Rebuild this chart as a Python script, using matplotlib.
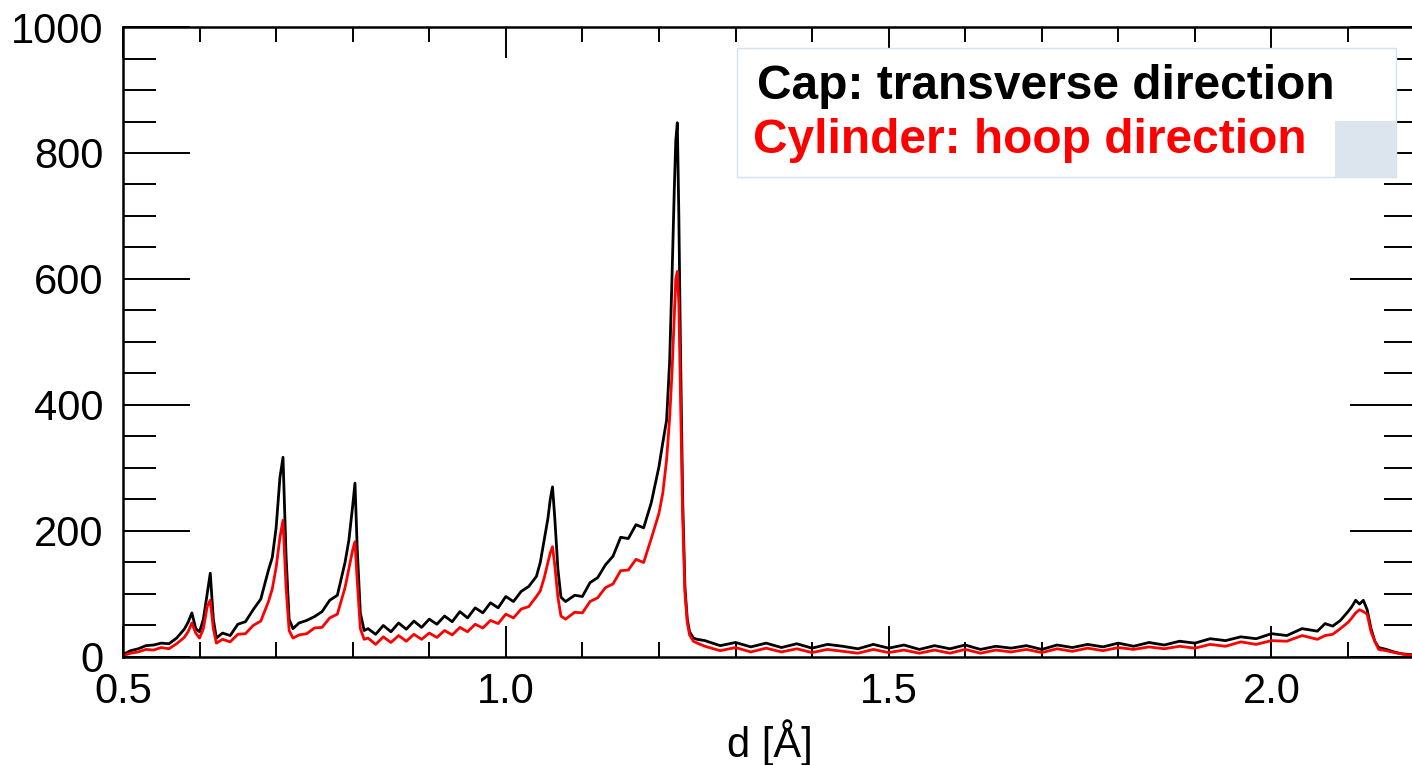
import matplotlib
matplotlib.use("Agg")
import matplotlib.pyplot as plt
from matplotlib.patches import Rectangle
from matplotlib.ticker import MultipleLocator

plt.rcParams['font.family'] = ['Liberation Sans', 'DejaVu Sans']

# d-spacing [Angstrom] and intensities
d = [0.50, 0.51, 0.52, 0.53, 0.54, 0.55, 0.56, 0.57, 0.58,
     0.585, 0.590, 0.595, 0.600, 0.605, 0.610, 0.614, 0.618, 0.622, 0.63,
     0.64, 0.65, 0.66, 0.67, 0.68, 0.69, 0.695, 0.700, 0.705, 0.709, 0.713, 0.717, 0.722,
     0.73, 0.74, 0.75, 0.76, 0.77, 0.78, 0.79, 0.795, 0.800, 0.803, 0.806, 0.810, 0.815,
     0.82, 0.83, 0.84, 0.85, 0.86, 0.87, 0.88, 0.89, 0.90, 0.91, 0.92, 0.93,
     0.94, 0.95, 0.96, 0.97, 0.98, 0.99, 1.00, 1.01, 1.02, 1.03, 1.04,
     1.045, 1.05, 1.055, 1.058, 1.061, 1.064, 1.068, 1.072, 1.078,
     1.09, 1.10, 1.11, 1.12, 1.13, 1.14, 1.15, 1.16, 1.17, 1.18, 1.19, 1.20,
     1.205, 1.210, 1.214, 1.217, 1.220, 1.222, 1.224, 1.226, 1.228, 1.231, 1.234, 1.237, 1.240, 1.245, 1.25,
     1.26, 1.28, 1.30, 1.32, 1.34, 1.36, 1.38, 1.40, 1.42, 1.44, 1.46, 1.48, 1.50, 1.52, 1.54,
     1.56, 1.58, 1.60, 1.62, 1.64, 1.66, 1.68, 1.70, 1.72, 1.74, 1.76, 1.78, 1.80, 1.82, 1.84,
     1.86, 1.88, 1.90, 1.92, 1.94, 1.96, 1.98, 2.00, 2.02, 2.04, 2.06, 2.07, 2.08, 2.09,
     2.10, 2.105, 2.11, 2.115, 2.12, 2.125, 2.13, 2.135, 2.14, 2.15, 2.16, 2.17, 2.18, 2.19]

cap = [4, 10, 13, 18, 19, 22, 21, 30, 44,
       55, 70, 45, 40, 60, 100, 133, 60, 30, 38,
       34, 52, 56, 75, 92, 138, 158, 205, 285, 317, 160, 60, 45,
       54, 58, 64, 72, 90, 98, 150, 185, 240, 276, 170, 70, 42,
       45, 36, 50, 40, 54, 44, 57, 47, 60, 52, 65, 56,
       72, 62, 78, 70, 86, 78, 96, 88, 104, 112, 128,
       150, 185, 220, 250, 270, 220, 140, 95, 88,
       98, 96, 118, 126, 146, 160, 190, 188, 210, 205, 245, 302,
       340, 376, 470, 600, 740, 820, 848, 700, 500, 250, 110, 60, 40, 30, 28,
       26, 18, 23, 16, 22, 15, 21, 14, 20, 17, 13, 20, 14, 19, 12,
       18, 13, 19, 12, 17, 14, 18, 12, 19, 15, 20, 16, 22, 17, 23,
       19, 25, 22, 29, 26, 32, 29, 37, 34, 45, 41, 53, 49, 58,
       72, 80, 90, 84, 90, 75, 45, 25, 15, 12, 8, 5, 4, 3]

cylinder = [2, 6, 8, 12, 11, 15, 13, 21, 31,
            40, 54, 38, 30, 45, 80, 90, 45, 22, 28,
            24, 36, 37, 50, 57, 88, 108, 142, 190, 217, 110, 42, 30,
            35, 37, 46, 47, 62, 68, 110, 140, 170, 183, 120, 45, 28,
            30, 20, 32, 23, 34, 25, 36, 28, 38, 31, 42, 35,
            47, 40, 52, 46, 58, 53, 68, 62, 76, 80, 96,
            105, 125, 150, 165, 175, 145, 95, 65, 60,
            71, 70, 88, 94, 110, 116, 137, 138, 155, 150, 188, 228,
            260, 313, 380, 450, 540, 600, 612, 560, 420, 220, 100, 55, 35, 25, 22,
            17, 10, 15, 8, 14, 8, 13, 7, 12, 9, 6, 12, 7, 11, 6,
            11, 6, 12, 6, 11, 8, 12, 7, 13, 9, 14, 10, 15, 12, 16,
            13, 17, 14, 20, 17, 24, 20, 26, 25, 34, 28, 34, 36, 45,
            55, 62, 70, 75, 72, 68, 40, 25, 12, 10, 7, 5, 3, 2]

fig = plt.figure(figsize=(14.12, 7.65), dpi=100)
ax = fig.add_axes([0.0871, 0.1412, 0.9164, 0.8235])

ax.plot(d, cap, color='black', lw=2.0)
ax.plot(d, cylinder, color='#ff0000', lw=2.0)

ax.set_xlim(0.5, 2.19)
ax.set_ylim(0, 1000)
ax.xaxis.set_major_locator(MultipleLocator(0.5))
ax.xaxis.set_minor_locator(MultipleLocator(0.1))
ax.yaxis.set_major_locator(MultipleLocator(200))
ax.yaxis.set_minor_locator(MultipleLocator(50))
ax.xaxis.set_major_formatter(plt.FormatStrFormatter('%.1f'))

ax.tick_params(axis='both', which='both', direction='in', top=True, right=True,
               width=1.4, labelsize=30)
ax.tick_params(axis='x', which='major', length=22, pad=11)
ax.tick_params(axis='x', which='minor', length=11)
ax.tick_params(axis='y', which='major', length=48, pad=14)
ax.tick_params(axis='y', which='minor', length=24)
for s in ax.spines.values():
    s.set_linewidth(1.8)

ax.set_xlabel('d [Å]', fontsize=30, labelpad=5)

# legend box drawn as plain text in a frame
fig.patches.append(Rectangle((0.522, 0.769), 0.467, 0.168, transform=fig.transFigure,
                             facecolor='white', edgecolor='#d5e1ec', lw=1.0, zorder=5))
fig.patches.append(Rectangle((0.9455, 0.769), 0.0435, 0.0732, transform=fig.transFigure,
                             facecolor='#dce4ee', edgecolor='none', zorder=6))
fig.text(0.536, 0.870, 'Cap: transverse direction', color='black', fontsize=34.5,
         fontweight='bold', va='baseline', zorder=7)
fig.text(0.533, 0.800, 'Cylinder: hoop direction', color='#ff0000', fontsize=34.5,
         fontweight='bold', va='baseline', zorder=7)

fig.savefig('out.png', dpi=100)
